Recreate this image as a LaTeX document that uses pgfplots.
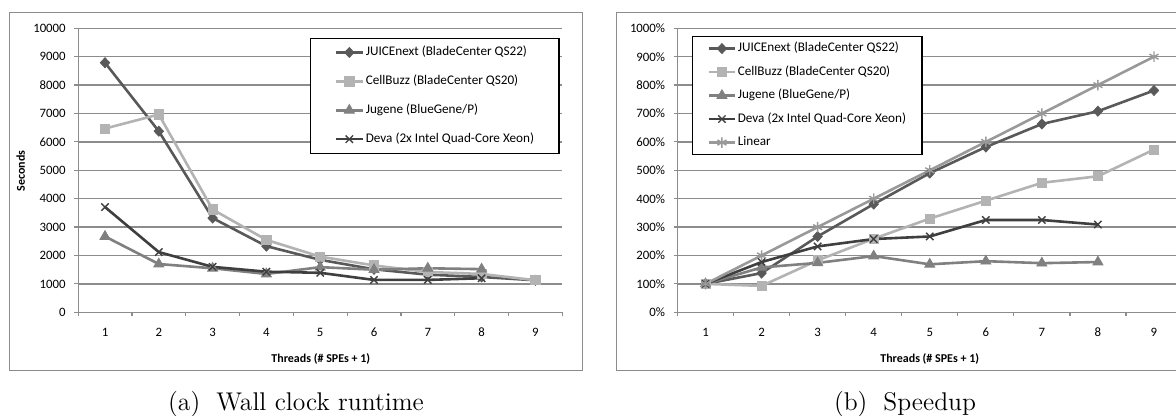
\documentclass[border=0pt]{standalone}
\usepackage{pgfplots}
\pgfplotsset{compat=1.18}
\usepackage{fontspec}
\newfontfamily\carlito{Carlito}
\definecolor{cJuice}{HTML}{595959}
\definecolor{cCell}{HTML}{B3B3B3}
\definecolor{cJug}{HTML}{808080}
\definecolor{cDeva}{HTML}{3F3F3F}
\definecolor{cLin}{HTML}{999999}
\definecolor{cGrid}{HTML}{8C8C8C}
\pgfplotsset{
  excel/.style={
    scale only axis, height=142pt,
    xmin=0.5, xmax=9.5, ymin=0,
    axis x line*=bottom, axis y line*=left,
    axis line style={cGrid, line width=0.6pt},
    tick align=outside, major tick length=2pt,
    tick style={cGrid, line width=0.6pt},
    xtick={0.5,1.5,...,9.5},
    xticklabel={\mbox{}},
    extra x ticks={1,2,...,9},
    extra x tick labels={1,2,3,4,5,6,7,8,9},
    extra x tick style={tick style={draw=none}},
    scaled y ticks=false,
    ymajorgrids, grid style={cGrid, line width=0.65pt},
    ticklabel style={font=\carlito\fontsize{6.4}{7.5}\selectfont},
    xticklabel style={anchor=base, yshift=-10pt},
    yticklabel style={anchor=east, inner sep=0pt, xshift=-4pt},
    /pgf/number format/assume math mode=true,
    /pgf/number format/1000 sep={},
    legend cell align=left,
    legend image code/.code={\draw[mark repeat=2,mark phase=2] plot coordinates {(0pt,0pt) (6.7pt,0pt) (13.4pt,0pt)};},
  },
  sJuice/.style={cJuice, line width=1.3pt, mark=diamond*, mark size=2.5pt, mark options={solid, xscale=1.25, fill=cJuice, line width=0.4pt}},
  sCell/.style={cCell, line width=1.3pt, mark=square*, mark size=2.3pt, mark options={solid, fill=cCell, line width=0.4pt}},
  sJug/.style={cJug, line width=1.3pt, mark=triangle*, mark size=2.9pt, mark options={solid, fill=cJug, line width=0.4pt}},
  sDeva/.style={cDeva, line width=1.3pt, mark=x, mark size=2.6pt, mark options={solid, line width=0.7pt}},
  sLin/.style={cLin, line width=1.3pt, mark=asterisk, mark size=2.6pt, mark options={solid, line width=0.7pt}},
}
\newcommand\lw[1]{\makebox[84.6pt][l]{#1}}
\begin{document}
\begin{tikzpicture}
\useasboundingbox (0,0) rectangle (588pt,-208pt);
\clip (0,0) rectangle (588pt,-208pt);
\begin{scope}[x=0.5pt,y=-0.5pt]
  \draw[cGrid, line width=0.6pt] (9.3,12.7) rectangle (582.7,370.7);
  \draw[cGrid, line width=0.6pt] (616.7,12.7) rectangle (1203,370.7);
\end{scope}
% Left: runtime
\begin{axis}[excel, at={(39.05pt,-156.15pt)}, anchor=south west, width=242.1pt,
  ymax=10000, ytick={0,1000,...,10000},
  legend style={at={(0.479,0.967)}, anchor=north west, draw=black, line width=0.6pt, fill=white,
    inner xsep=12pt, inner ysep=4.1pt, row sep=8.45pt, column sep=0.9pt,
    font=\carlito\fontsize{6.6}{8}\selectfont,
    nodes={inner sep=0pt, text height=4.6pt, text depth=1.4pt}},
]
\addplot[sJuice] coordinates {(1,8788) (2,6376) (3,3318) (4,2329) (5,1847) (6,1515) (7,1325) (8,1243) (9,1127)};
\addlegendentry{\lw{JUICEnext (BladeCenter QS22)}}
\addplot[sCell] coordinates {(1,6470) (2,6965) (3,3620) (4,2550) (5,1960) (6,1650) (7,1420) (8,1350) (9,1130)};
\addlegendentry{\lw{CellBuzz (BladeCenter QS20)}}
\addplot[sJug] coordinates {(1,2670) (2,1700) (3,1550) (4,1350) (5,1590) (6,1500) (7,1550) (8,1520)};
\addlegendentry{\lw{Jugene (BlueGene/P)}}
\addplot[sDeva] coordinates {(1,3706) (2,2120) (3,1600) (4,1430) (5,1390) (6,1140) (7,1140) (8,1200)};
\addlegendentry{\lw{Deva (2x Intel Quad-Core Xeon)}}
\end{axis}
% Right: speedup
\begin{axis}[excel, at={(338.75pt,-156.15pt)}, anchor=south west, width=252.25pt,
  ymax=1000, ytick={0,100,...,1000},
  yticklabel={\pgfmathprintnumber{\tick}\%},
  legend style={at={(0.028,0.973)}, anchor=north west, draw=black, line width=0.6pt, fill=white,
    inner xsep=7.5pt, inner ysep=3.0pt, row sep=5.75pt, column sep=0.6pt,
    font=\carlito\fontsize{6.6}{8}\selectfont,
    nodes={inner sep=0pt, text height=4.6pt, text depth=1.4pt}},
]
\addplot[sJuice] coordinates {(1,100) (2,138) (3,267) (4,381) (5,490) (6,582) (7,663) (8,708) (9,781)};
\addlegendentry{\lw{JUICEnext (BladeCenter QS22)}}
\addplot[sCell] coordinates {(1,100) (2,93) (3,183) (4,259) (5,330) (6,393) (7,456) (8,479) (9,573)};
\addlegendentry{\lw{CellBuzz (BladeCenter QS20)}}
\addplot[sJug] coordinates {(1,100) (2,158) (3,174) (4,198) (5,169) (6,180) (7,173) (8,177)};
\addlegendentry{\lw{Jugene (BlueGene/P)}}
\addplot[sDeva] coordinates {(1,100) (2,177) (3,232) (4,258) (5,267) (6,325) (7,325) (8,309)};
\addlegendentry{\lw{Deva (2x Intel Quad-Core Xeon)}}
\addplot[sLin] coordinates {(1,100) (2,200) (3,300) (4,400) (5,500) (6,600) (7,700) (8,800) (9,900)};
\addlegendentry{\lw{Linear}}
\end{axis}
\begin{scope}[x=0.5pt,y=-0.5pt]
  \node[font=\carlito\bfseries\fontsize{6}{7}\selectfont, rotate=90] at (20.7,171) {Seconds};
  \node[font=\carlito\bfseries\fontsize{6}{7}\selectfont] at (320.8,359) {Threads (\# SPEs + 1)};
  \node[font=\carlito\bfseries\fontsize{6}{7}\selectfont] at (929.7,359) {Threads (\# SPEs + 1)};
  \node[font=\fontsize{12.8}{15}\selectfont, anchor=base, inner sep=0pt] at (296,410.8) {(a)\hspace{8pt}Wall clock runtime};
  \node[font=\fontsize{12.8}{15}\selectfont, anchor=base, inner sep=0pt] at (905,410.8) {(b)\hspace{8pt}Speedup};
\end{scope}
\end{tikzpicture}
\end{document}
